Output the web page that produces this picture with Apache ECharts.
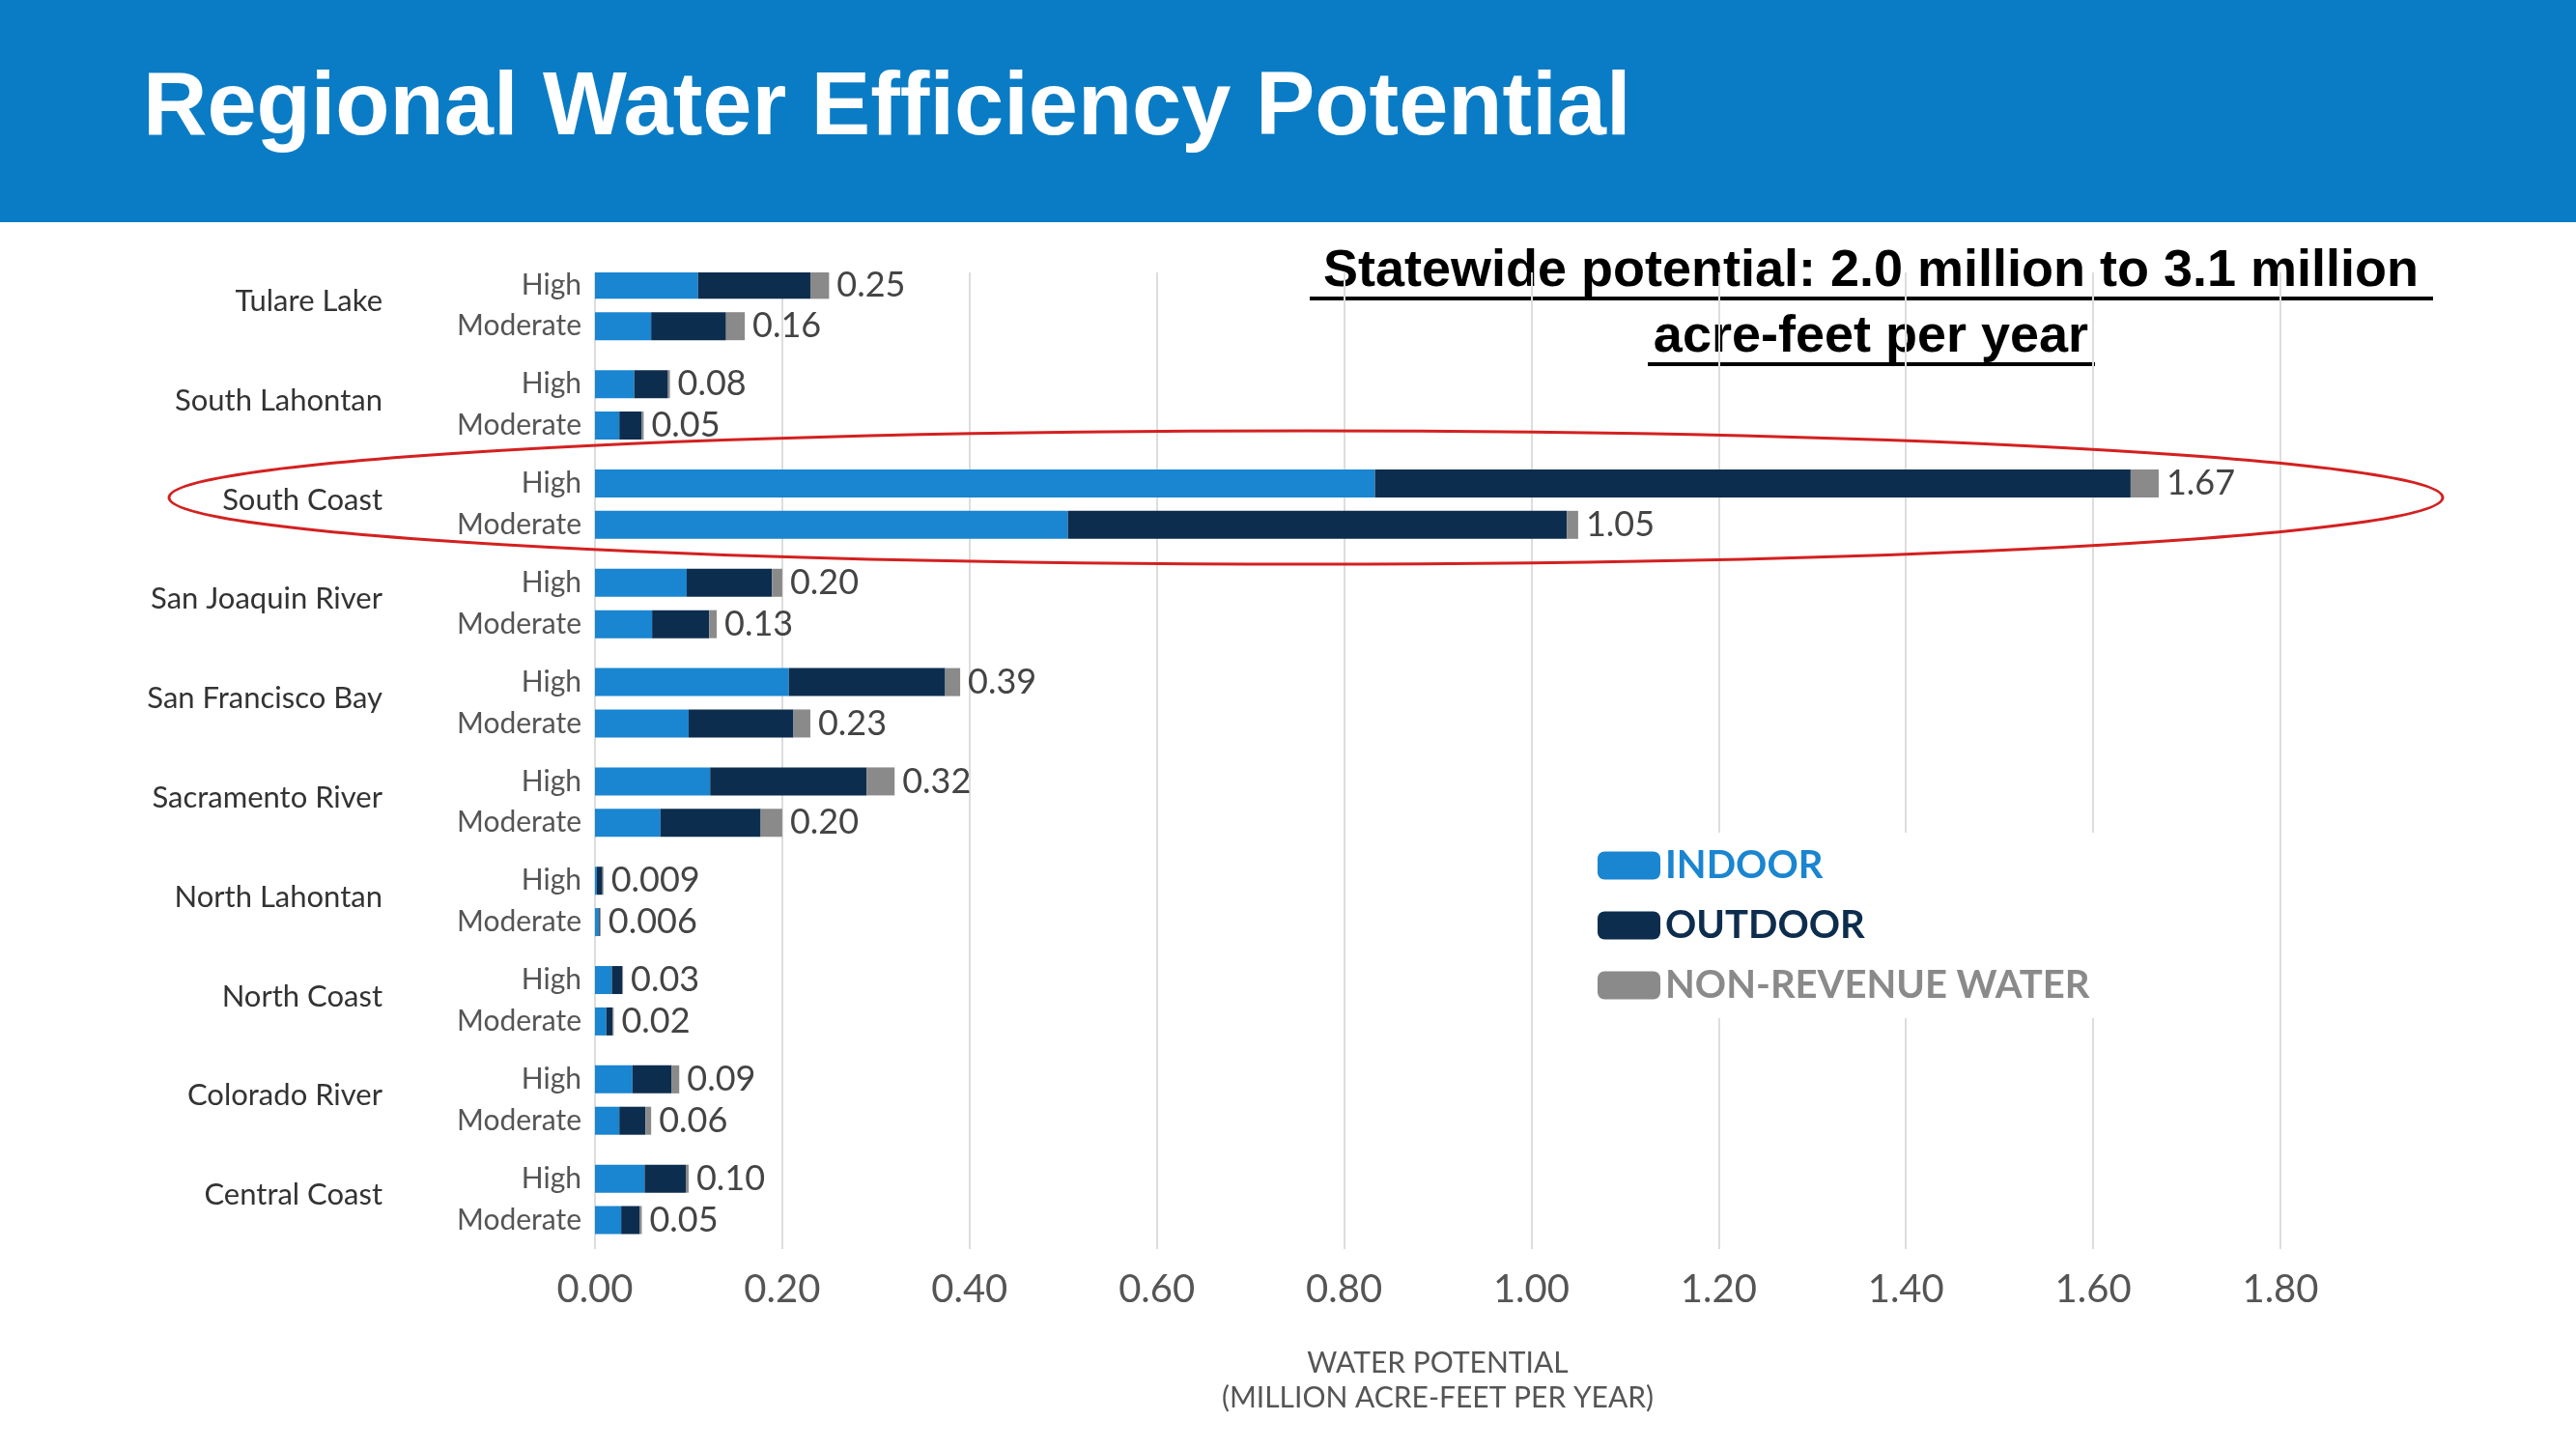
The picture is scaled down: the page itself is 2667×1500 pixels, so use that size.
<!DOCTYPE html>
<html><head><meta charset="utf-8">
<script src="https://cdn.jsdelivr.net/npm/echarts@6/dist/echarts.min.js"></script>
<style>html,body{margin:0;padding:0;background:#fff}#c{width:2667px;height:1500px}</style>
</head><body><div id="c"></div>
<script>
var regions = ['Tulare Lake','South Lahontan','South Coast','San Joaquin River','San Francisco Bay','Sacramento River','North Lahontan','North Coast','Colorado River','Central Coast'];
// [high, moderate] per region
var indoor  = [[0.11,0.06],[0.042,0.026],[0.833,0.505],[0.098,0.061],[0.207,0.10],[0.123,0.07],[0.002,0.004],[0.018,0.012],[0.04,0.026],[0.053,0.028]];
var outdoor = [[0.12,0.08],[0.036,0.024],[0.807,0.533],[0.091,0.061],[0.167,0.112],[0.167,0.107],[0.006,0.001],[0.011,0.007],[0.042,0.028],[0.044,0.02]];
var nrw     = [[0.02,0.02],[0.002,0.002],[0.03,0.012],[0.011,0.008],[0.016,0.018],[0.03,0.023],[0.001,0.001],[0.001,0.001],[0.008,0.006],[0.003,0.002]];
var totals  = [['0.25','0.16'],['0.08','0.05'],['1.67','1.05'],['0.20','0.13'],['0.39','0.23'],['0.32','0.20'],['0.009','0.006'],['0.03','0.02'],['0.09','0.06'],['0.10','0.05']];
var levels = ['High','Moderate'];
var xTicks = ['0.00','0.20','0.40','0.60','0.80','1.00','1.20','1.40','1.60','1.80'];

var SLOTS = 118, slotOf = function(g,k){ return g*12 + (k ? 6 : 1); };
var levelCats = [], regionCats = [], labelOf = {};
for (var i = 0; i < SLOTS; i++) { levelCats.push('s'+i); regionCats.push('r'+i); }
var lvlText = {}, regText = {};
regions.forEach(function(r,g){
  regText['r'+(g*12+3)] = r;
  [0,1].forEach(function(k){ lvlText['s'+slotOf(g,k)] = levels[k]; labelOf[slotOf(g,k)] = totals[g][k]; });
});
function build(arr){
  var d = []; for (var i = 0; i < SLOTS; i++) d.push('-');
  arr.forEach(function(p,g){ d[slotOf(g,0)] = p[0]; d[slotOf(g,1)] = p[1]; });
  return d;
}
var colors = ['#1a85d0','#0d2d4e','#8a8a8a'];
var chart = echarts.init(document.getElementById('c'));
var font = 'Lato, "Open Sans", sans-serif';
function bar(name, arr, ci, last){
  var s = { name: name, type: 'bar', stack: 'a', data: build(arr), barWidth: 29,
    itemStyle: { color: colors[ci] }, yAxisIndex: 0 };
  if (last) s.label = { show: true, position: 'right', distance: 8, fontSize: 36, color: '#444', fontFamily: font,
    formatter: function(p){ return labelOf[p.dataIndex] || ''; } };
  return s;
}
chart.setOption({
  animation: false,
  grid: { left: 616, right: 306, top: 282, height: 1011 },
  xAxis: { type: 'value', min: 0, max: 1.8, interval: 0.2,
    axisLabel: { fontSize: 40, color: '#555', fontFamily: font, margin: 22, formatter: function(v){ return v.toFixed(2); } },
    splitLine: { lineStyle: { color: '#dddddd', width: 2 } }, axisLine: { show: false }, axisTick: { show: false },
    name: 'WATER POTENTIAL\n(MILLION ACRE-FEET PER YEAR)', nameLocation: 'middle', nameGap: 100,
    nameTextStyle: { fontSize: 30, color: '#555', fontFamily: font, lineHeight: 36 } },
  yAxis: [
    { type: 'category', inverse: true, data: levelCats, axisLine: { show: false }, axisTick: { show: false },
      axisLabel: { interval: 0, margin: 14, fontSize: 30, color: '#555', fontFamily: font, formatter: function(v){ return lvlText[v] || ''; } } },
    { type: 'category', inverse: true, data: regionCats, position: 'left', offset: 220, axisLine: { show: false }, axisTick: { show: false },
      axisLabel: { interval: 0, margin: 0, fontSize: 31, color: '#333', fontFamily: font, formatter: function(v){ return regText[v] || ''; } } }
  ],
  legend: { orient: 'vertical', left: 1640, top: 862, itemWidth: 65, itemHeight: 29, itemGap: 22,
    backgroundColor: '#fff', padding: [14,14,14,14],
    textStyle: { fontSize: 40, fontFamily: font, fontWeight: 'bold' },
    data: [{ name: 'INDOOR', textStyle: { color: colors[0] } }, { name: 'OUTDOOR', textStyle: { color: colors[1] } },
           { name: 'NON-REVENUE WATER', textStyle: { color: '#8a8a8a' } }] },
  series: [bar('INDOOR', indoor, 0), bar('OUTDOOR', outdoor, 1), bar('NON-REVENUE WATER', nrw, 2, true),
    { type: 'bar', yAxisIndex: 1, data: [], silent: true }],
  graphic: [
    { type: 'rect', left: 0, top: 0, shape: { width: 2667, height: 230 }, style: { fill: '#0a7cc5' }, z: -1 },
    { type: 'text', left: 148, top: 68, style: { text: 'Regional Water Efficiency Potential', fill: '#fff', font: 'bold 92px "Liberation Sans", Arial, sans-serif' } },
    { type: 'text', x: 1937, y: 281, style: { text: 'Statewide potential: 2.0 million to 3.1 million', fill: '#000', align: 'center', verticalAlign: 'middle', font: 'bold 54px "Liberation Sans", Arial, sans-serif' } },
    { type: 'text', x: 1937, y: 349, style: { text: 'acre-feet per year', fill: '#000', align: 'center', verticalAlign: 'middle', font: 'bold 54px "Liberation Sans", Arial, sans-serif' } },
    { type: 'line', shape: { x1: 1356, y1: 309, x2: 2519, y2: 309 }, style: { stroke: '#000', lineWidth: 4 } },
    { type: 'line', shape: { x1: 1706, y1: 377, x2: 2169, y2: 377 }, style: { stroke: '#000', lineWidth: 4 } },
    { type: 'ellipse', shape: { cx: 1352, cy: 515, rx: 1177, ry: 69 }, style: { fill: 'none', stroke: '#d42020', lineWidth: 3 }, z: 10 }
  ]
});
</script></body></html>
